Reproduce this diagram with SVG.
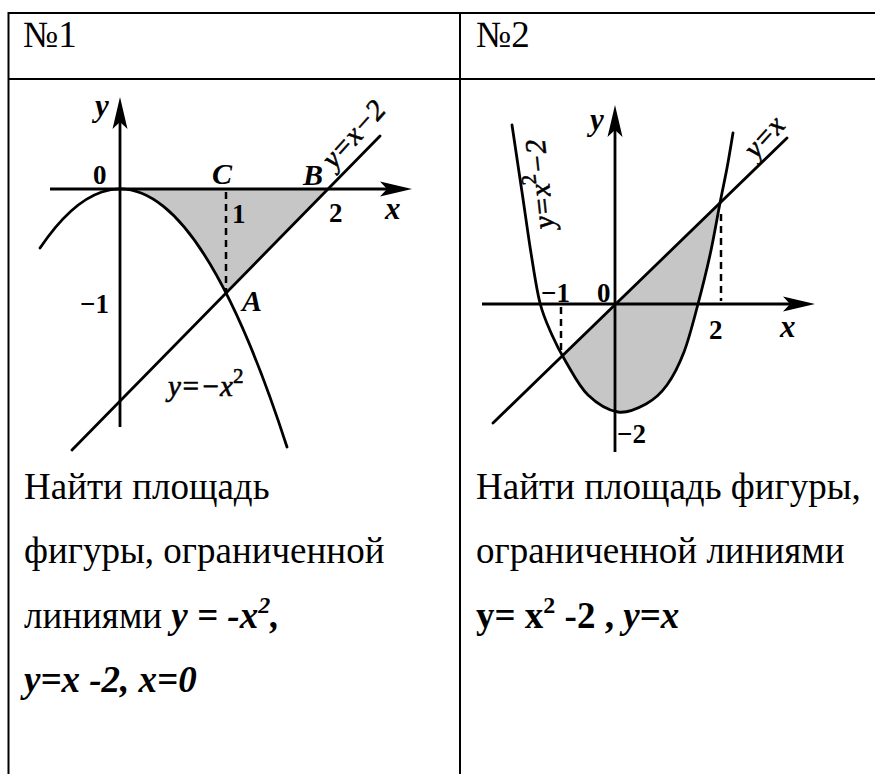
<svg xmlns="http://www.w3.org/2000/svg" width="875" height="774" viewBox="0 0 875 774">
<style>
.grid{stroke:#000;stroke-width:2;fill:none}
.body{font-family:"Liberation Serif","Times New Roman","DejaVu Serif",serif;font-size:37px;fill:#000}
.b{font-weight:bold}
.bi{font-weight:bold;font-style:italic}
.curve{stroke:#000;stroke-width:2.8;fill:none;stroke-linecap:round}
.axis{stroke:#000;stroke-width:2.8;fill:none}
.dash{stroke:#000;stroke-width:2.5;fill:none;stroke-dasharray:7 5}
.shade{fill:#c6c6c6;stroke:none}
.lbl{font-family:"Liberation Serif","Times New Roman","DejaVu Serif",serif;fill:#000}
.dig{font-size:27px;font-weight:bold}
.let{font-size:31px;font-weight:bold;font-style:italic}
.pt{font-size:30px;font-weight:bold;font-style:italic}
.fn{font-size:29px;font-style:italic;stroke:#000;stroke-width:0.6}
</style>
<defs>
<marker id="arrow" viewBox="-34 -8 36 16" markerWidth="36" markerHeight="16" refX="-8" refY="0" orient="auto" markerUnits="userSpaceOnUse">
<path d="M0,0 L-32,-7.5 L-25,0 L-32,7.5 Z" fill="#000"/>
</marker>
<clipPath id="belowLine">
<polygon points="480,435.6 800,125.5 800,470 480,470"/>
</clipPath>
</defs>
<rect width="875" height="774" fill="#fff"/>

<g id="table">
<line class="grid" x1="8" y1="13" x2="875" y2="13"/>
<line class="grid" x1="8" y1="79" x2="875" y2="79"/>
<line class="grid" x1="8.5" y1="12" x2="8.5" y2="774"/>
<line class="grid" x1="460" y1="12" x2="460" y2="774"/>
</g>

<g id="header1"><text class="body" x="23" y="47">№1</text></g>
<g id="header2"><text class="body" x="476" y="47">№2</text></g>

<g id="graph1">
<path class="shade" d="M120,189 Q173,189 226,293 L328,189 Z"/>
<g id="graph1-lines">
<line class="axis" x1="120" y1="427" x2="120" y2="105" marker-end="url(#arrow)"/>
<line class="axis" x1="50" y1="189" x2="404" y2="189" marker-end="url(#arrow)"/>
<path class="curve" d="M40,248 Q163.5,65.4 287,447"/>
<line class="curve" x1="72" y1="450" x2="380" y2="136"/>
<line class="dash" x1="226" y1="192" x2="226" y2="291"/>
</g>
<text class="lbl let" x="95" y="116">y</text>
<text class="lbl dig" x="93" y="184">0</text>
<text class="lbl pt" x="212" y="184">C</text>
<text class="lbl pt" x="303" y="185">B</text>
<text class="lbl dig" x="329" y="222">2</text>
<text class="lbl let" x="385" y="219">x</text>
<text class="lbl dig" x="232" y="223">1</text>
<text class="lbl dig" x="80" y="313">−1</text>
<text class="lbl pt" x="242" y="311">A</text>
<text class="lbl fn" x="168" y="396">y=−x<tspan font-size="21" dy="-13" font-style="normal">2</tspan></text>
<text class="lbl fn" transform="translate(334,170) rotate(-48)">y=x−2</text>
</g>

<g id="graph2">
<path class="shade" clip-path="url(#belowLine)" d="M512,125 C513.7,136.2 518.8,170.7 522,192 C525.2,213.3 528,234.5 531,253 C534,271.5 536.5,289.3 540,303 C543.5,316.7 547.7,325.2 552,335 C556.3,344.8 560,352 566,362 C572,372 579.3,386.7 588,395 C596.7,403.3 608.3,410.5 618,412 C627.7,413.5 637.8,408.5 646,404 C654.2,399.5 660.7,393.7 667,385 C673.3,376.3 678.8,365.5 684,352 C689.2,338.5 693.7,320.2 698,304 C702.3,287.8 706.3,271.8 710,255 C713.7,238.2 717.2,217.5 720,203 C722.8,188.5 724.8,179.7 727,168 C729.2,156.3 732,138.8 733,133 Z"/>
<g id="graph2-lines">
<line class="axis" x1="615" y1="452" x2="615" y2="113" marker-end="url(#arrow)"/>
<line class="axis" x1="482" y1="304" x2="807" y2="304" marker-end="url(#arrow)"/>
<path class="curve" d="M512,125 C513.7,136.2 518.8,170.7 522,192 C525.2,213.3 528,234.5 531,253 C534,271.5 536.5,289.3 540,303 C543.5,316.7 547.7,325.2 552,335 C556.3,344.8 560,352 566,362 C572,372 579.3,386.7 588,395 C596.7,403.3 608.3,410.5 618,412 C627.7,413.5 637.8,408.5 646,404 C654.2,399.5 660.7,393.7 667,385 C673.3,376.3 678.8,365.5 684,352 C689.2,338.5 693.7,320.2 698,304 C702.3,287.8 706.3,271.8 710,255 C713.7,238.2 717.2,217.5 720,203 C722.8,188.5 724.8,179.7 727,168 C729.2,156.3 732,138.8 733,133"/>
<line class="curve" x1="493" y1="423" x2="787" y2="138"/>
<line class="dash" x1="561" y1="307" x2="561" y2="353"/>
<line class="dash" x1="721" y1="214" x2="721" y2="301"/>
</g>
<text class="lbl let" x="590" y="130">y</text>
<text class="lbl fn" transform="translate(756,160) rotate(-48)">y=x</text>
<text class="lbl fn" transform="translate(554,228) rotate(-96)">y=x<tspan font-size="21" dy="-13" font-style="normal">2</tspan><tspan dy="13">−2</tspan></text>
<text class="lbl dig" x="541" y="302">−1</text>
<text class="lbl dig" x="597" y="302">0</text>
<text class="lbl dig" x="709" y="339">2</text>
<text class="lbl let" x="780" y="337">x</text>
<text class="lbl dig" x="617" y="443">−2</text>
</g>

<g id="text1">
<text class="body" x="24" y="499">Найти площадь</text>
<text class="body" x="24" y="563">фигуры, ограниченной</text>
<text class="body" x="24" y="628">линиями <tspan class="bi">y = -x</tspan><tspan class="bi" font-size="24" dy="-15">2</tspan><tspan class="bi" dy="15">,</tspan></text>
<text class="body bi" x="24" y="692">y=x -2, x=0</text>
</g>

<g id="text2">
<text class="body" x="476" y="499">Найти площадь фигуры,</text>
<text class="body" x="476" y="563">ограниченной линиями</text>
<text class="body" x="476" y="628"><tspan class="b">y= x</tspan><tspan class="b" font-size="24" dy="-15">2</tspan><tspan class="b" dy="15"> -2 , </tspan><tspan class="bi">y=x</tspan></text>
</g>
</svg>
